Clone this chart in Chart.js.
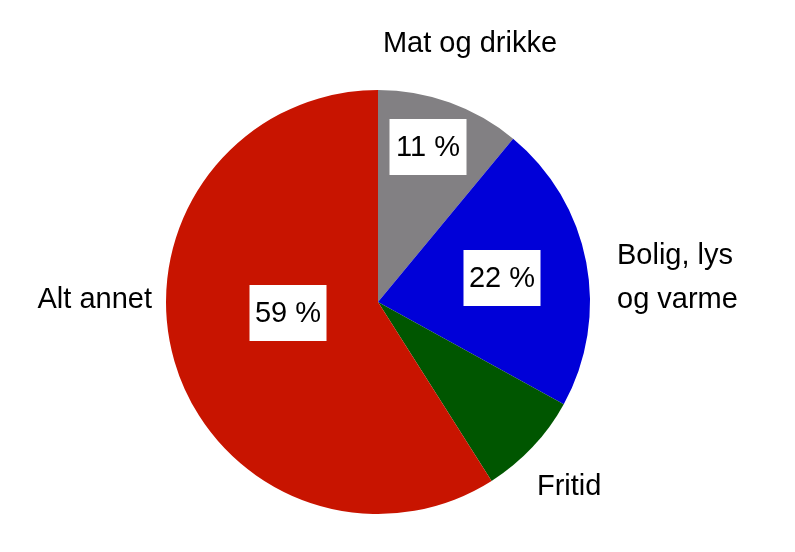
<!DOCTYPE html>
<html>
<head>
<meta charset="utf-8">
<script src="https://cdn.jsdelivr.net/npm/chart.js@4/dist/chart.umd.min.js"></script>
<style>
  html, body { margin: 0; padding: 0; background: #fff; }
  #wrap { width: 795px; height: 552px; }
</style>
</head>
<body>
<div id="wrap"><canvas id="pie" width="795" height="552"></canvas></div>
<script>
// ======================
// DATA
// ======================
const categories = ['Mat og drikke', 'Bolig, lys og varme', 'Fritid', 'Alt annet'];
const shares = [11, 22, 8, 59];
const showShare = [true, true, false, true];
const colors = ['#828083', '#0000D8', '#005600', '#C81400'];

// outer label text lines
const outerLines = [
  ['Mat og drikke'],
  ['Bolig, lys', 'og varme'],
  ['Fritid'],
  ['Alt annet']
];

// ======================
// LABEL LAYOUT (offsets from pie centre, px)
// ======================
const outerPos = [
  { dx: 92, dy: -258, align: 'center' },
  { dx: 239, dy: -46, align: 'left' },
  { dx: 159, dy: 185, align: 'left' },
  { dx: -226, dy: -2, align: 'right' }
];
const boxPos = [
  { dx: 50, dy: -155 },
  { dx: 124, dy: -24 },
  null,
  { dx: -90, dy: 11 }
];

const FONT = '29px "Liberation Sans", Arial, sans-serif';

const labelPlugin = {
  id: 'pieLabels',
  afterDatasetsDraw(chart) {
    const ctx = chart.ctx;
    const arcs = chart.getDatasetMeta(0).data;
    const cx = arcs[0].x;
    const cy = arcs[0].y;

    ctx.save();
    ctx.font = FONT;
    ctx.fillStyle = '#000';
    ctx.textBaseline = 'middle';

    // percent boxes
    shares.forEach((v, i) => {
      if (!showShare[i] || !boxPos[i]) return;
      const x = cx + boxPos[i].dx;
      const y = cy + boxPos[i].dy;
      ctx.fillStyle = '#fff';
      ctx.fillRect(x - 38.5, y - 28, 77, 56);
      ctx.fillStyle = '#000';
      ctx.textAlign = 'center';
      ctx.fillText(`${v} %`, x, y + 1);
    });

    // category labels outside
    outerLines.forEach((lines, i) => {
      const p = outerPos[i];
      ctx.textAlign = p.align;
      lines.forEach((t, k) => {
        ctx.fillText(t, cx + p.dx, cy + p.dy + k * 44);
      });
    });

    ctx.restore();
  }
};

new Chart(document.getElementById('pie'), {
  type: 'pie',
  data: {
    labels: categories,
    datasets: [{
      data: shares,
      backgroundColor: colors,
      borderWidth: 0
    }]
  },
  options: {
    responsive: false,
    animation: false,
    layout: {
      padding: { top: 90, bottom: 38, left: 166, right: 205 }
    },
    plugins: {
      legend: { display: false },
      tooltip: { enabled: false }
    }
  },
  plugins: [labelPlugin]
});
</script>
</body>
</html>
